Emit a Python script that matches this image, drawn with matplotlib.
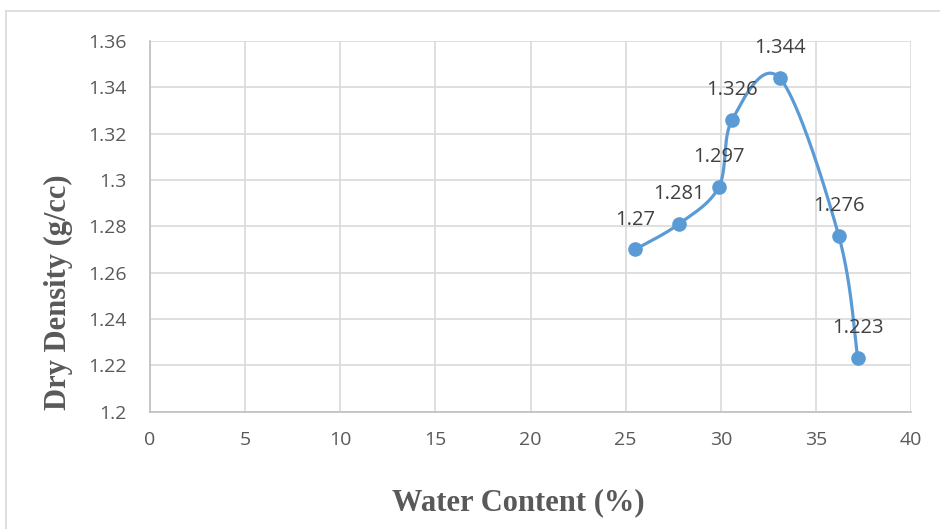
import numpy as np
import matplotlib.pyplot as plt
from matplotlib.lines import Line2D

# compaction test results
water_content = [25.5, 27.8, 29.9, 30.6, 33.1, 36.2, 37.2]
dry_density = [1.27, 1.281, 1.297, 1.326, 1.344, 1.276, 1.223]
density_labels = ['1.27', '1.281', '1.297', '1.326', '1.344', '1.276', '1.223']

x_ticks = list(range(0, 45, 5))
y_ticks = [1.2, 1.22, 1.24, 1.26, 1.28, 1.3, 1.32, 1.34, 1.36]
y_tick_labels = ['1.2', '1.22', '1.24', '1.26', '1.28', '1.3', '1.32', '1.34', '1.36']

line_color = '#5B9BD5'
text_gray = '#595959'


def smooth_curve(x, y, n=60):
    # Catmull-Rom style bezier through every point
    pts = np.column_stack([x, y]).astype(float)
    padded = np.vstack([pts[0], pts, pts[-1]])
    out = []
    t = np.linspace(0, 1, n)[:, None]
    for i in range(len(pts) - 1):
        p0, p1, p2, p3 = padded[i], padded[i + 1], padded[i + 2], padded[i + 3]
        c1 = p1 + (p2 - p0) / 6
        c2 = p2 - (p3 - p1) / 6
        seg = ((1 - t) ** 3 * p1 + 3 * (1 - t) ** 2 * t * c1
               + 3 * (1 - t) * t ** 2 * c2 + t ** 3 * p2)
        out.append(seg)
    curve = np.vstack(out)
    return curve[:, 0], curve[:, 1]


fig = plt.figure(figsize=(9.4, 5.29), dpi=100)
ax = fig.add_axes([150 / 940, 1 - 411.6 / 529, 761 / 940, 370.6 / 529])

# chart area border
fig.add_artist(Line2D([6 / 940, 1.0], [1 - 11 / 529, 1 - 11 / 529],
                      color='#d9d9d9', lw=1.2, transform=fig.transFigure))
fig.add_artist(Line2D([6 / 940, 6 / 940], [0, 1 - 11 / 529],
                      color='#d9d9d9', lw=1.2, transform=fig.transFigure))

sx, sy = smooth_curve(water_content, dry_density)
ax.plot(sx, sy, color=line_color, lw=2.3, zorder=3, solid_capstyle='round')
ax.plot(water_content, dry_density, 'o', color=line_color, markersize=9.5, zorder=4)

for x, y, lab in zip(water_content, dry_density, density_labels):
    ax.annotate(lab, (x, y), xytext=(0, 21.5), textcoords='offset points',
                ha='center', va='center', fontsize=14.5, color='#404040',
                family='Open Sans')

ax.set_xlim(0, 40)
ax.set_ylim(1.2, 1.36)
ax.set_xticks(x_ticks)
ax.set_yticks(y_ticks)
ax.set_yticklabels(y_tick_labels)
ax.grid(True, color='#d9d9d9', lw=1.2)
ax.set_axisbelow(True)
for side in ['top', 'right']:
    ax.spines[side].set_visible(False)
for side in ['left', 'bottom']:
    ax.spines[side].set_color('#bfbfbf')
    ax.spines[side].set_linewidth(1.2)
ax.tick_params(length=0, labelsize=14, labelcolor=text_gray)
ax.tick_params(axis='x', pad=14)
ax.tick_params(axis='y', pad=17)
for lbl in ax.get_xticklabels() + ax.get_yticklabels():
    lbl.set_family('Open Sans')

fig.text(518 / 940, 1 - 503 / 529, 'Water Content (%)', ha='center', va='center',
         fontsize=22, fontweight='bold', family='Liberation Serif', color=text_gray)
fig.text(58 / 940, 1 - 292 / 529, 'Dry Density (g/cc)', ha='center', va='center',
         rotation=90, fontsize=22, fontweight='bold', family='Liberation Serif',
         color=text_gray)

fig.savefig('out.png', dpi=100)
